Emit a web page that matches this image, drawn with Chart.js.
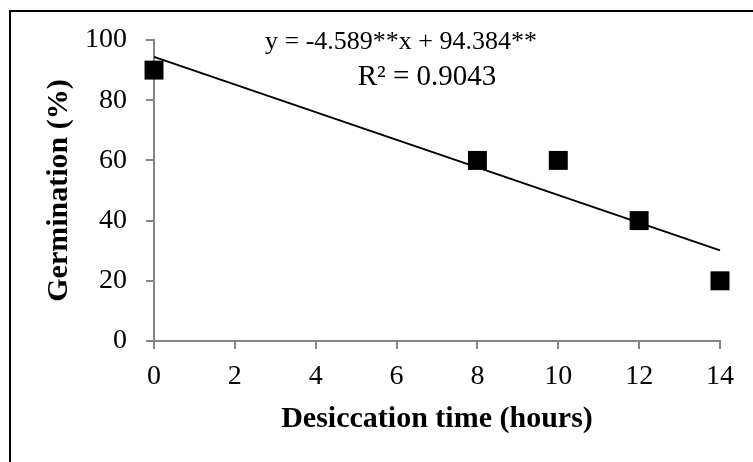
<!DOCTYPE html>
<html>
<head>
<meta charset="utf-8">
<script src="https://cdn.jsdelivr.net/npm/chart.js@4.4.0/dist/chart.umd.min.js"></script>
<style>
  html, body { margin: 0; padding: 0; background: #fff; }
  #wrap { width: 753px; height: 462px; }
</style>
</head>
<body>
<div id="wrap"><canvas id="germChart" width="753" height="462"></canvas></div>
<script>
// observed points
const hours = [0, 8, 10, 12, 14];
const germination = [90, 60, 60, 40, 20];

// fitted line end points
const trendHours = [0, 14];
const trendGermination = [94.4, 30.1];

const xTicks = [0, 2, 4, 6, 8, 10, 12, 14];
const yTicks = [0, 20, 40, 60, 80, 100];

const equationLines = ["y = -4.589**x + 94.384**", "R\u00B2 = 0.9043"];

const serif = "'Liberation Serif', 'Times New Roman', serif";
const axisGray = "#868686";

// outer frame + regression label
const extras = {
    id: "extras",
    afterDraw(chart) {
        const ctx = chart.ctx;
        ctx.save();
        ctx.strokeStyle = "#000";
        ctx.lineWidth = 2;
        ctx.beginPath();
        ctx.moveTo(10, 462);
        ctx.lineTo(10, 11);
        ctx.lineTo(753, 11);
        ctx.stroke();

        ctx.fillStyle = "#000";
        ctx.textAlign = "center";
        ctx.textBaseline = "alphabetic";
        ctx.font = "26px " + serif;
        ctx.fillText(equationLines[0], 401, 49);
        ctx.font = "29px " + serif;
        ctx.fillText(equationLines[1], 427, 85);
        ctx.restore();
    }
};

const ctx = document.getElementById("germChart").getContext("2d");
new Chart(ctx, {
    type: "scatter",
    data: {
        datasets: [
            {
                label: "Germination",
                data: hours.map((h, i) => ({ x: h, y: germination[i] })),
                pointStyle: "rect",
                pointRadius: 13.4,
                pointHoverRadius: 13.4,
                backgroundColor: "#000",
                borderColor: "#000",
                borderWidth: 0,
                clip: false,
                order: 1
            },
            {
                label: "Linear",
                type: "line",
                data: trendHours.map((h, i) => ({ x: h, y: trendGermination[i] })),
                borderColor: "#000",
                borderWidth: 2,
                pointRadius: 0,
                fill: false,
                clip: false,
                order: 2
            }
        ]
    },
    options: {
        responsive: false,
        animation: false,
        layout: { padding: { left: 37, right: 33, top: 40, bottom: 0 } },
        plugins: {
            legend: { display: false },
            tooltip: { enabled: false }
        },
        scales: {
            x: {
                type: "linear",
                min: 0,
                max: 14,
                afterFit(scale) { scale.height = 121; },
                afterBuildTicks(scale) { scale.ticks = xTicks.map(v => ({ value: v })); },
                ticks: { color: "#000", font: { family: serif, size: 28 }, padding: 11 },
                grid: { drawOnChartArea: false, drawTicks: true, tickLength: 8, color: axisGray, lineWidth: 2 },
                border: { color: axisGray, width: 2 },
                title: {
                    display: true,
                    text: "Desiccation time (hours)",
                    color: "#000",
                    font: { family: serif, size: 30, weight: "bold" },
                    padding: { top: 0, bottom: 25 }
                }
            },
            y: {
                min: 0,
                max: 100,
                afterFit(scale) { scale.width = 117; },
                afterBuildTicks(scale) { scale.ticks = yTicks.map(v => ({ value: v })); },
                ticks: { color: "#000", font: { family: serif, size: 28 }, padding: 19 },
                grid: { drawOnChartArea: false, drawTicks: true, tickLength: 8, color: axisGray, lineWidth: 2 },
                border: { color: axisGray, width: 2 },
                title: {
                    display: true,
                    text: "Germination (%)",
                    color: "#000",
                    font: { family: serif, size: 30, weight: "bold" },
                    padding: { top: 4, bottom: 0 }
                }
            }
        }
    },
    plugins: [extras]
});
</script>
</body>
</html>
